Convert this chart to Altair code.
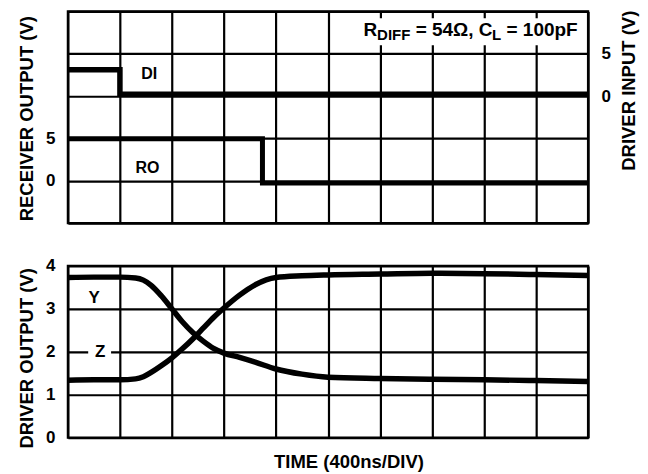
import altair as alt
import pandas as pd

FONT = "Liberation Sans"

# ---------------- data ----------------
# x in divisions (400 ns / DIV)
div_ticks = list(range(11))

# top panel
di_x = [0, 1.0, 1.0, 10]
di_v = [3.1, 3.1, 0.2, 0.2]          # DRIVER INPUT (V), right axis
ro_x = [0, 3.74, 3.74, 10]
ro_v = [4.95, 4.95, -0.27, -0.27]    # RECEIVER OUTPUT (V), left axis

top_left_grid = [-5, 0, 5, 10, 15, 20]
top_left_labels = [0, 5]
top_right_labels = [0, 5]

# bottom panel
y_x = [0, 0.5, 1.0, 1.3, 1.45, 1.6, 1.8, 2.0, 2.2, 2.4, 2.6, 2.8, 3.0, 3.3,
       3.6, 4.0, 4.5, 5.0, 6.0, 7.0, 8.0, 9.0, 10.0]
y_v = [3.73, 3.74, 3.74, 3.72, 3.67, 3.55, 3.3, 3.0, 2.7, 2.45, 2.25, 2.08,
       1.97, 1.87, 1.76, 1.6, 1.48, 1.41, 1.38, 1.36, 1.35, 1.33, 1.31]
z_x = [0, 0.5, 1.0, 1.3, 1.45, 1.6, 1.8, 2.0, 2.2, 2.4, 2.6, 2.8, 3.0, 3.3,
       3.6, 4.0, 4.5, 5.0, 6.0, 7.0, 8.0, 9.0, 10.0]
z_v = [1.34, 1.35, 1.35, 1.37, 1.42, 1.52, 1.68, 1.86, 2.07, 2.3, 2.55, 2.8,
       3.02, 3.32, 3.56, 3.73, 3.77, 3.79, 3.81, 3.83, 3.82, 3.8, 3.78]
bottom_ticks = [0, 1, 2, 3, 4]

# annotation pieces (text, x in div, y in volts on the left top scale)
ann_main = pd.DataFrame({"t": ["R", "= 54\u03a9, C", "= 100pF"],
                         "x": [5.681, 6.685, 8.432],
                         "y": [17.1] * 3})
ann_sub = pd.DataFrame({"t": ["DIFF", "L"], "x": [5.944, 8.152], "y": [16.6, 16.6]})
top_labels = pd.DataFrame({"t": ["DI", "RO"], "x": [1.41, 1.30], "y": [12.6, 1.5]})
bot_labels = pd.DataFrame({"t": ["Y", "Z"], "x": [0.505, 0.62], "y": [3.26, 2.0]})

# ---------------- chart ----------------
W = 521
H_TOP = 212
H_BOT = 172

xs = alt.Scale(domain=[0, 10], nice=False, zero=False)
ys_top = alt.Scale(domain=[-5, 20], nice=False, zero=False)
ys_di = alt.Scale(domain=[-15, 10], nice=False, zero=False)
ys_bot = alt.Scale(domain=[0, 4], nice=False, zero=False)

grid_style = dict(grid=True, gridColor="black", gridWidth=2.2, gridOpacity=1,
                  domain=False, ticks=False, tickSize=0)

x_top_axis = alt.Axis(values=div_ticks, labels=False, title=None, **grid_style)
x_bot_axis = alt.Axis(values=div_ticks, labels=False, title="TIME (400ns/DIV)",
                      titlePadding=15, titleX=281, **grid_style)
y_bot_axis = alt.Axis(values=bottom_ticks, title="DRIVER OUTPUT (V)", titleY=92,
                      labelPadding=13, titlePadding=9, **grid_style)

ro_df = pd.DataFrame({"x": ro_x, "v": ro_v})
di_df = pd.DataFrame({"x": di_x, "v": di_v})

label_list = ",".join(str(v) for v in top_left_labels)

ro_layer = alt.Chart(ro_df).mark_line(color="black", strokeWidth=5).encode(
    x=alt.X("x:Q", scale=xs, axis=x_top_axis),
    y=alt.Y("v:Q", scale=ys_top, axis=alt.Axis(
        values=top_left_grid, labelExpr=f"indexof([{label_list}], datum.value) >= 0 ? datum.label : ''",
        title="RECEIVER OUTPUT (V)", titleY=107, labelPadding=13, titlePadding=9, **grid_style)),
    order="x:Q",
)

ann_box = alt.Chart(pd.DataFrame({"x": [5.64], "x2": [9.86], "y": [19.2], "y2": [16.0]})).mark_rect(
    color="white").encode(
    x=alt.X("x:Q", scale=xs, axis=x_top_axis), x2="x2:Q",
    y=alt.Y("y:Q", scale=ys_top, axis=None), y2="y2:Q")

ann_main_layer = alt.Chart(ann_main).mark_text(
    font=FONT, fontWeight="bold", fontSize=19, align="left", baseline="alphabetic", color="black").encode(
    x=alt.X("x:Q", scale=xs, axis=x_top_axis), y=alt.Y("y:Q", scale=ys_top, axis=None), text="t:N")
ann_sub_layer = alt.Chart(ann_sub).mark_text(
    font=FONT, fontWeight="bold", fontSize=15, align="left", baseline="alphabetic", color="black").encode(
    x=alt.X("x:Q", scale=xs, axis=x_top_axis), y=alt.Y("y:Q", scale=ys_top, axis=None), text="t:N")
top_lab_layer = alt.Chart(top_labels).mark_text(
    font=FONT, fontWeight="bold", fontSize=16, align="left", baseline="middle", color="black").encode(
    x=alt.X("x:Q", scale=xs, axis=x_top_axis), y=alt.Y("y:Q", scale=ys_top, axis=None), text="t:N")

di_layer = alt.Chart(di_df).mark_line(color="black", strokeWidth=5.5).encode(
    x=alt.X("x:Q", scale=xs, axis=x_top_axis),
    y=alt.Y("v:Q", scale=ys_di, axis=alt.Axis(
        orient="right", values=top_right_labels, grid=False, domain=False, ticks=False, tickSize=0,
        labelPadding=13, title="DRIVER INPUT (V)", titleAngle=-90, titleBaseline="top",
        titleY=79, titlePadding=9)),
    order="x:Q",
)

top = alt.layer(ro_layer, ann_box, ann_main_layer, ann_sub_layer, top_lab_layer, di_layer).resolve_scale(
    y="independent").properties(width=W, height=H_TOP)

curves = pd.concat([
    pd.DataFrame({"x": y_x, "v": y_v, "s": "Y"}),
    pd.DataFrame({"x": z_x, "v": z_v, "s": "Z"}),
])

curve_layer = alt.Chart(curves).mark_line(color="black", strokeWidth=5.5, interpolate="monotone").encode(
    x=alt.X("x:Q", scale=xs, axis=x_bot_axis),
    y=alt.Y("v:Q", scale=ys_bot, axis=y_bot_axis),
    detail="s:N",
    order="x:Q",
)

z_box = alt.Chart(pd.DataFrame({"x": [0.39], "x2": [0.83], "y": [1.85], "y2": [2.15]})).mark_rect(
    color="white").encode(
    x=alt.X("x:Q", scale=xs, axis=x_bot_axis), x2="x2:Q",
    y=alt.Y("y:Q", scale=ys_bot, axis=y_bot_axis), y2="y2:Q")

bot_lab_layer = alt.Chart(bot_labels).mark_text(
    font=FONT, fontWeight="bold", fontSize=17, align="center", baseline="middle", color="black").encode(
    x=alt.X("x:Q", scale=xs, axis=x_bot_axis), y=alt.Y("y:Q", scale=ys_bot, axis=y_bot_axis), text="t:N")

bottom = alt.layer(curve_layer, z_box, bot_lab_layer).properties(width=W, height=H_BOT)

chart = alt.vconcat(top, bottom, spacing=43, bounds="flush").properties(
    padding={"left": 8, "top": 0, "right": 0, "bottom": 0}, background="white"
).configure_view(stroke="black", strokeWidth=2.3).configure_axis(
    labelFont=FONT, labelFontWeight="bold", labelFontSize=17, labelColor="black",
    titleFont=FONT, titleFontWeight="bold", titleFontSize=18.5, titleColor="black",
)

chart.save("out.html", embed_options={"renderer": "svg", "actions": False})
